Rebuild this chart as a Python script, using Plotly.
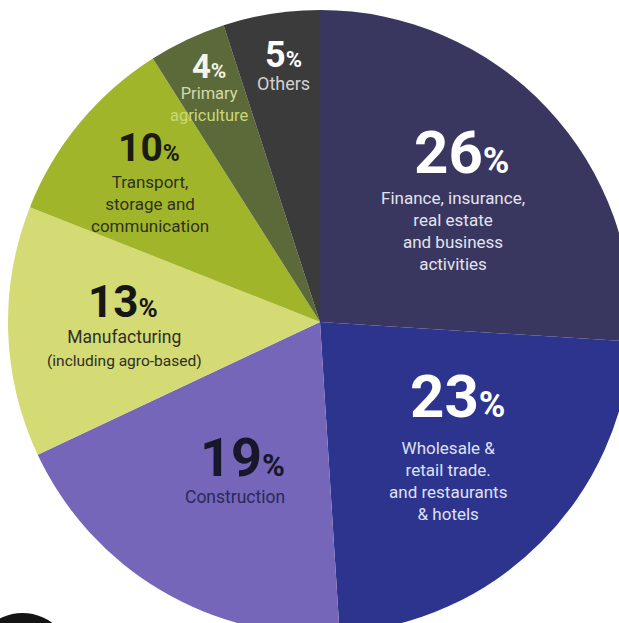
import plotly.graph_objects as go

# Sector shares of GDP (%), clockwise from 12 o'clock
sectors = [
    "Finance, insurance, real estate and business activities",
    "Wholesale & retail trade, and restaurants & hotels",
    "Construction",
    "Manufacturing (including agro-based)",
    "Transport, storage and communication",
    "Primary agriculture",
    "Others",
]
shares = [26, 23, 19, 13, 10, 4, 5]
slice_colors = ["#39375f", "#2d348d", "#7566ba", "#d4da74", "#a1b52b", "#5c6a3a", "#3b3b3c"]

# Descriptive text drawn under each percentage
descriptions = [
    "Finance, insurance,<br>real estate<br>and business<br>activities",
    "Wholesale &<br>retail trade.<br>and restaurants<br>& hotels",
    "Construction",
    "Manufacturing<br><span style='font-size:15.5px'>(including agro-based)</span>",
    "Transport,<br>storage and<br>communication",
    None,
    None,
]

W, H = 640, 644          # canvas is a little larger than the viewport; the pie bleeds off right/bottom
CX, CY, R = 320, 322, 312


def px(x):
    return x / W


def py(y):
    return 1 - y / H


fig = go.Figure(
    go.Pie(
        labels=sectors,
        values=shares,
        sort=False,
        direction="clockwise",
        rotation=0,
        marker=dict(colors=slice_colors, line=dict(width=0)),
        textinfo="none",
        hoverinfo="label+percent",
        domain=dict(x=[px(CX - R), px(CX + R)], y=[py(CY + R), py(CY - R)]),
        showlegend=False,
    )
)

FONT = "Roboto, 'Open Sans', sans-serif"


def pct_text(v, pct_size):
    return f"<b>{v}</b><span style='font-size:{pct_size}px'><b>%</b></span>"


# (value index, number centre, number size, % size, number colour,
#  description centre, description size, description colour)
label_specs = [
    (0, (461, 153), 60, 36, "#ffffff", (453, 231), 17, "#e4e3ee"),
    (1, (457, 396), 60, 36, "#ffffff", (448, 481), 17, "#dfe1f5"),
    (2, (242, 457), 54, 31, "#17162a", (235, 497), 17.5, "#2a2958"),
    (3, (123, 302), 44, 26, "#161614", (124, 348), 17.5, "#2e2e24"),
    (4, (149, 148), 39, 23, "#1b1b12", (150, 204), 17, "#2f3020"),
]

annotations = []
for i, (nx, ny), nsize, psize, ncol, dpos, dsize, dcol in label_specs:
    annotations.append(dict(
        x=px(nx), y=py(ny), xref="paper", yref="paper",
        xanchor="center", yanchor="middle", showarrow=False,
        text=pct_text(shares[i], psize),
        font=dict(family=FONT, size=nsize, color=ncol, weight=900),
    ))
    annotations.append(dict(
        x=px(dpos[0]), y=py(dpos[1]), xref="paper", yref="paper",
        xanchor="center", yanchor="middle", showarrow=False,
        text=descriptions[i],
        font=dict(family=FONT, size=dsize, color=dcol),
    ))

# The two thin top slices: number and caption stacked in one block
annotations.append(dict(
    x=px(209), y=py(86), xref="paper", yref="paper",
    xanchor="center", yanchor="middle", showarrow=False,
    text=(f"<span style='font-size:33px;fill:#f4f4ea'><b>{shares[5]}</b></span>"
          "<span style='font-size:21px;fill:#f4f4ea'><b>%</b></span><br>"
          "<span style='fill:#d3dba6'>Primary</span><br>"
          "<span style='fill:#c9d873'>agriculture</span>"),
    font=dict(family=FONT, size=16.5, color="#d3dba6"),
))
annotations.append(dict(
    x=px(283), y=py(64), xref="paper", yref="paper",
    xanchor="center", yanchor="middle", showarrow=False,
    text=(f"<span style='font-size:36px;fill:#ffffff'><b>{shares[6]}</b></span>"
          "<span style='font-size:22px;fill:#ffffff'><b>%</b></span><br>Others"),
    font=dict(family=FONT, size=18, color="#d2d2d2"),
))

fig.update_layout(
    width=W,
    height=H,
    margin=dict(l=0, r=0, t=0, b=0),
    paper_bgcolor="#ffffff",
    plot_bgcolor="#ffffff",
    annotations=annotations,
    shapes=[
        # dark rounded object peeking in at the lower-left corner
        dict(type="circle", xref="paper", yref="paper",
             x0=px(-30), x1=px(75), y0=py(725), y1=py(613),
             fillcolor="#141414", line=dict(width=0), layer="below"),
    ],
)

fig.write_html(
    "out.html",
    config={"displayModeBar": False, "responsive": False},
    post_script="document.documentElement.style.overflow='hidden';document.body.style.overflow='hidden';document.body.style.margin='0';",
)
